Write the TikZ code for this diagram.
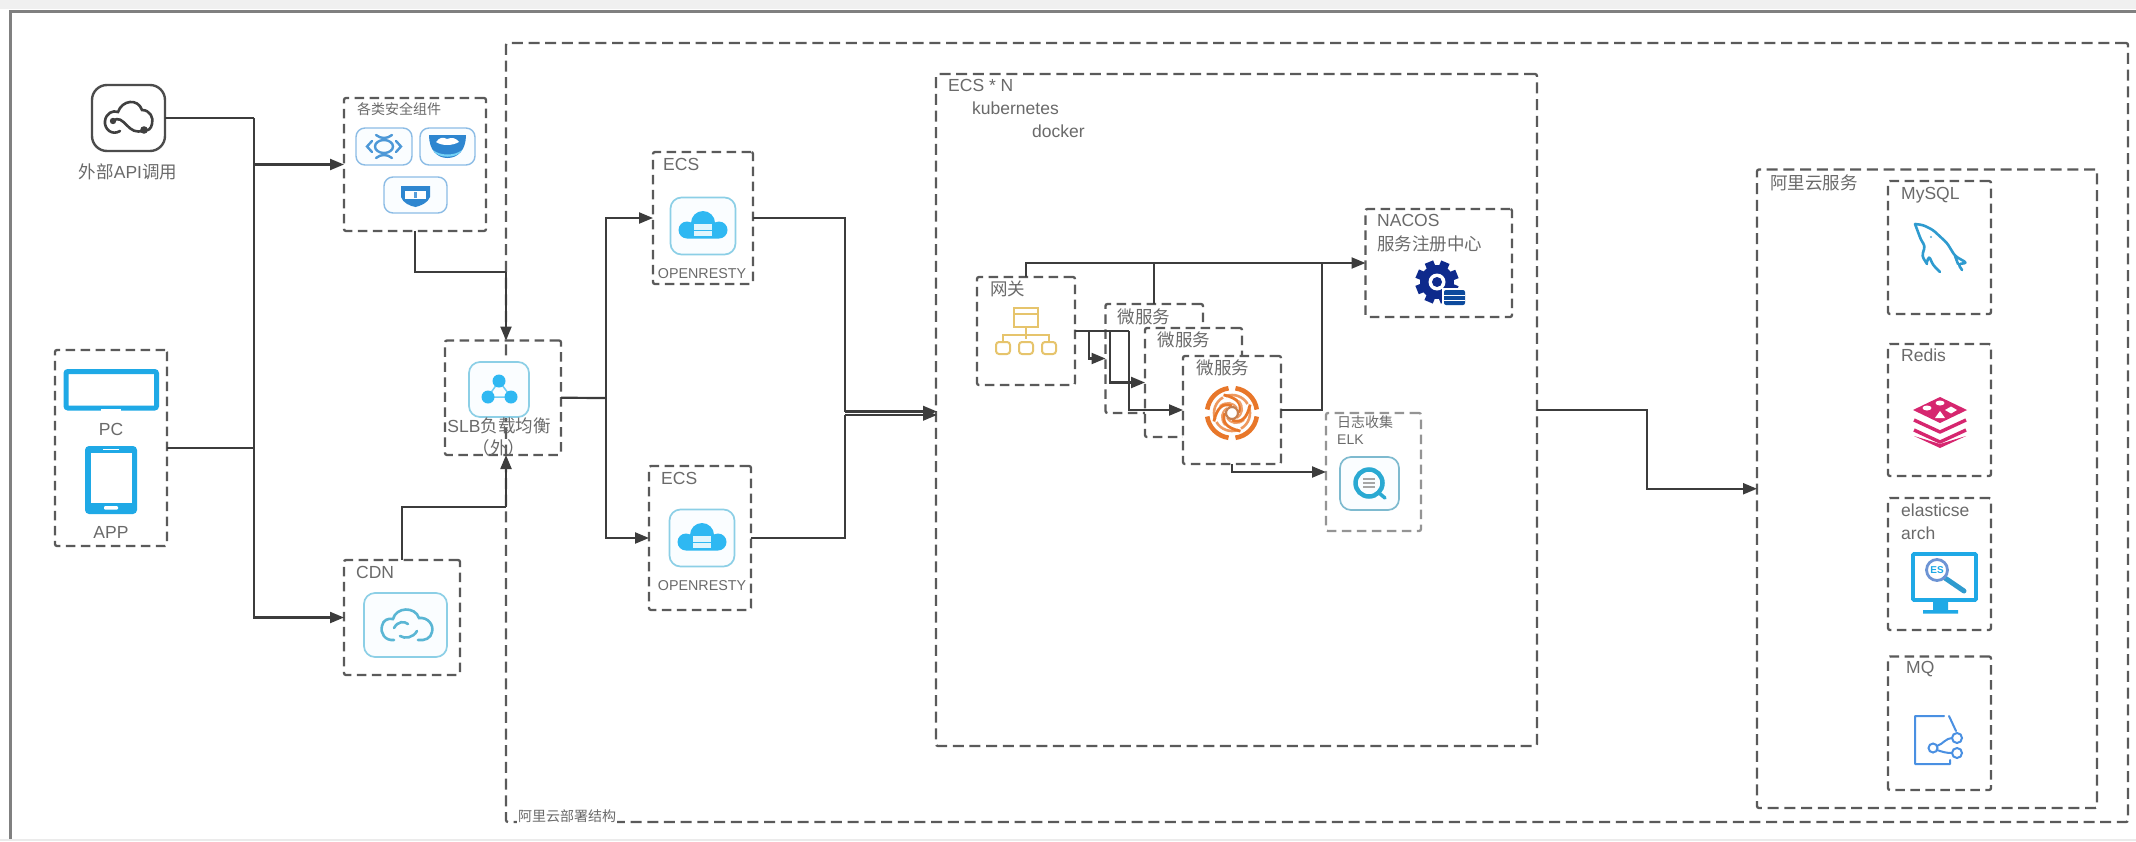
\documentclass[tikz,border=0pt]{standalone}
\usepackage{fontspec}
\setmainfont{Liberation Sans}
\newfontfamily\cjk{Noto Sans CJK SC}
\usetikzlibrary{arrows.meta,fit}
\definecolor{dashc}{HTML}{5A5A5A}
\definecolor{linec}{HTML}{3C3C3C}
\definecolor{txtc}{HTML}{6A6A6A}
\definecolor{tilec}{HTML}{8CCFE6}
\definecolor{sky}{HTML}{1FA9E6}
\definecolor{lightsky}{HTML}{2FB8F2}
\definecolor{secb}{HTML}{2E86D0}
\definecolor{swirl}{HTML}{E8772A}
\definecolor{navy}{HTML}{0E2A8C}
\definecolor{gold}{HTML}{E6C46C}
\definecolor{redisc}{HTML}{D6266F}
\definecolor{mqc}{HTML}{4A90E2}
\definecolor{dolph}{HTML}{2F9BCF}
\definecolor{cdnc}{HTML}{5AB6D4}
\definecolor{elkc}{HTML}{2AA9D2}
\tikzset{
  dbox/.style={draw=dashc,line width=2.3pt,dash pattern=on 9.5pt off 5.5pt,inner sep=0pt,outer sep=0pt,rounded corners=2pt,fill=none},
  wbox/.style={dbox,fill=white},
  lbox/.style={dbox,draw=dashc!65},
  conn/.style={draw=linec,line width=2.2pt},
  arr/.style={conn,-{Triangle[length=14pt,width=11pt]}},
  lbl/.style={text=txtc,inner sep=0pt,font=\fontsize{17.5}{21}\selectfont},
  small/.style={text=txtc,inner sep=0pt,font=\fontsize{14}{17}\selectfont},
  tiny/.style={text=txtc,inner sep=0pt,font=\fontsize{14.3}{17}\selectfont},
  tile/.style={draw=tilec,line width=1.7pt,fill=cyan!2,rounded corners=11pt},
  stile/.style={draw=secb!55,line width=1.4pt,fill=cyan!2,rounded corners=9pt},
}
\newcommand\cloudtile[2]{%
  \begin{scope}[shift={(#1,#2)}]
    \draw[tile] (-32.5,-28.5) rectangle (32.5,28.5);
    \fill[lightsky] (0,-3) circle[radius=12pt] (-16,4) circle[radius=8.5pt] (16,4) circle[radius=8.5pt] (-16,-3) rectangle (16,12.5);
    \fill[cyan!12] (-9,-2) rectangle (9,10);
    \draw[lightsky,line width=.8pt] (-9,4) -- (9,4);
  \end{scope}}
\begin{document}
\begin{tikzpicture}[x=1pt,y=-1pt]
\useasboundingbox (0,0) rectangle (2136,841);
\fill[white] (0,0) rectangle (2136,841);
\fill[black!6] (0,0) rectangle (2136,9);
\fill[black!8] (0,839) rectangle (2136,841);
\draw[black!50,line width=3pt] (2136,11) -- (10,11) -- (10,839);
% big frames
\node[dbox,dash pattern=on 11pt off 5.7pt,fit={(506,43) (2128,822)}] (big) {};
\node[dbox,fit={(344,98) (486,231)}] (sec) {};
\node[dbox,fit={(55,350) (167,546)}] (client) {};
\node[dbox,fit={(445,340.5) (561,455)}] (slb) {};
\node[dbox,fit={(344,560) (460,675)}] (cdn) {};
\node[dbox,fit={(653,152) (753,284)}] (ecsa) {};
\node[dbox,fit={(649,466) (751,610)}] (ecsb) {};
\node[dbox,dash pattern=on 11pt off 5.7pt,fit={(936,74) (1537,746)}] (ecsn) {};
\node[dbox,fit={(977,277) (1075,385)}] (gw) {};
\node[wbox,fit={(1105.5,304) (1203,413)}] (msa) {};
\node[wbox,fit={(1145,328) (1242,437)}] (msb) {};
\node[wbox,fit={(1183,356) (1281,464)}] (msc) {};
\node[dbox,fit={(1365.5,209) (1512,317)}] (nacos) {};
\node[lbox,fit={(1326,413) (1421,531)}] (elk) {};
\node[dbox,dash pattern=on 11pt off 5.7pt,fit={(1757,169.5) (2097,808)}] (ali) {};
\node[dbox,fit={(1888,181) (1991,314)}] (mysql) {};
\node[dbox,fit={(1888,344) (1991,476)}] (redis) {};
\node[dbox,fit={(1888,498) (1991,630)}] (es) {};
\node[dbox,fit={(1888,656.5) (1991,790)}] (mq) {};
% API icon
\node[draw=black!70,line width=2.4pt,rounded corners=15pt,inner sep=0pt,outer sep=0pt,fit={(92,85) (165,151)}] (api) {};
\draw[black!75,line width=2.6pt,line cap=round]
  (120,131) .. controls (112,136) and (104,129) .. (105,121)
  .. controls (106,113) and (113,110) .. (118,112)
  .. controls (122,100) and (138,98) .. (142,110)
  .. controls (150,110) and (154,118) .. (152,124)
  .. controls (151,129) and (148,131) .. (145,130);
\draw[black!75,line width=2.6pt,line cap=round] (113,121) .. controls (124,112) and (128,138) .. (144,130);
\fill[black!75] (144,130) circle[radius=3.8pt] (113,121) circle[radius=3.2pt];
% security icons
\draw[stile] (356,128) rectangle (412,165);
\draw[stile] (420,128) rectangle (475,165);
\draw[stile] (384,177) rectangle (447,213);
\draw[secb!85,line width=2.4pt] (384,146.5) ellipse[x radius=9pt,y radius=6.5pt];
\draw[secb!85,line width=2.4pt,line cap=round] (376,135) .. controls (381,139) and (387,139) .. (392,135) (376,158) .. controls (381,154) and (387,154) .. (392,158) (372,141) -- (367,146.5) -- (372,152) (396,141) -- (401,146.5) -- (396,152);
\fill[secb] (429,135) -- (466,135) .. controls (466,150) and (458,158) .. (447.5,158) .. controls (437,158) and (429,150) .. (429,135) -- cycle;
\fill[white] (436,142) .. controls (440,137) and (443,137) .. (447,139) .. controls (452,137) and (456,138) .. (459,142) .. controls (452,146) and (442,146) .. (436,142) -- cycle;
\fill[cyan!55] (433,150) .. controls (440,156) and (455,156) .. (462,150) .. controls (458,159) and (437,159) .. (433,150) -- cycle;
\fill[secb] (401,186) -- (430,186) -- (430,197) .. controls (428,203) and (420,206) .. (415.5,207) .. controls (410,206) and (403,203) .. (401,197) -- cycle;
\fill[white] (405,191) rectangle (426,199);
\fill[secb!80] (414,192) rectangle (417,198);
% client icons
\draw[sky,line width=5pt,rounded corners=2pt] (66,371.5) rectangle (156.5,408);
\fill[white] (101,409) rectangle (121,411);
\fill[sky,rounded corners=4pt] (85,446) rectangle (137,514);
\fill[white] (90.5,452.5) rectangle (131.5,503);
\fill[white,rounded corners=1pt] (104,506) rectangle (118,509.5);
\fill[white] (103,448.5) rectangle (119,450);
% SLB icon
\draw[tile] (469,362) rectangle (529,417);
\draw[lightsky!70,line width=1.5pt] (499,381) -- (488,397) -- (511,397) -- cycle;
\fill[lightsky] (499,381) circle[radius=6.5pt] (488,397) circle[radius=6.5pt] (511,397) circle[radius=6.5pt];
% CDN icon
\draw[tile] (364,593) rectangle (447,657);
\draw[cdnc,line width=2.6pt,line cap=round]
  (394,640) .. controls (385,641) and (380,633) .. (382,626) .. controls (383,620) and (388,618) .. (393,619)
  .. controls (396,607) and (415,606) .. (419,618) .. controls (428,617) and (434,625) .. (432,632) .. controls (431,638) and (425,641) .. (418,640)
  (394,628) .. controls (398,621) and (404,621) .. (408,624)
  (417,631) .. controls (413,638) and (405,639) .. (400,636);
% ECS icons
\cloudtile{703}{226}
\cloudtile{702}{538}
% gateway icon
\draw[gold,line width=2pt]
  (1014,308) rectangle (1038,327) (1014,314) -- (1038,314)
  (1026,327) -- (1026,339) (1003,342) -- (1003,335) -- (1049,335) -- (1049,342);
\draw[gold,line width=2pt,rounded corners=3pt] (996,342) rectangle (1010,354) (1019,342) rectangle (1033,354) (1042,342) rectangle (1056,354);
% swirl icon
\begin{scope}[shift={(1232,413)}]
  \foreach \a in {0,90,180,270} {
    \draw[swirl,line width=4.6pt] (\a+8:25pt) arc[start angle=\a+8,end angle=\a+82,radius=25pt];
    \draw[swirl!75,line width=2.6pt] (\a+30:18pt) arc[start angle=\a+30,end angle=\a+110,radius=18pt];
    \draw[swirl,line width=2.8pt] (\a:7pt) .. controls (\a+40:14pt) and (\a+70:16pt) .. (\a+115:20pt);
    \draw[swirl!70,line width=2pt] (\a+45:7pt) .. controls (\a+85:11pt) and (\a+115:13pt) .. (\a+150:14pt);
  }
  \draw[swirl!80!black!80,line width=2.2pt] (0,0) circle[radius=6pt];
\end{scope}
% nacos gear
\begin{scope}[shift={(1437,282)}]
  \fill[navy] (0,0) circle[radius=17pt];
  \foreach \a in {0,45,90,135} \fill[navy,rotate=\a+22] (-4.5,-21.5) rectangle (4.5,21.5);
  \fill[white] (0,0) circle[radius=8.5pt];
  \fill[navy] (0,0) circle[radius=5pt];
  \fill[white] (5,6) rectangle (30,25);
  \fill[navy!85!cyan,rounded corners=2pt] (7,8) rectangle (28,23);
  \draw[white,line width=1pt] (7,13) -- (28,13) (7,18) -- (28,18);
\end{scope}
% elk icon
\draw[tile,draw=tilec!90!black] (1340,457) rectangle (1399,510);
\draw[elkc,line width=4.5pt] (1369,483) circle[radius=13.5pt];
\draw[black!35,line width=1.3pt] (1363,479) -- (1375,479) (1363,483) -- (1375,483) (1363,487) -- (1375,487);
\draw[elkc,line width=3.5pt,line cap=round] (1379,493) -- (1385,498);
% dolphin
\draw[dolph,line width=2.6pt,line join=round,line cap=round,rounded corners=3pt]
  (1915,224) -- (1923,225) -- (1933,230) -- (1947,243) -- (1955,256) -- (1967,263) -- (1958,264) -- (1962,270)
  (1915,224) -- (1921,240) -- (1925,246) -- (1922,256) -- (1927,264) (1927,262) -- (1929,256) -- (1933,265) -- (1940,272)
  (1955,256) -- (1958,264);
\fill[dolph!80] (1931,237) circle[radius=1.2pt];
% redis
\fill[redisc] (1913,410) -- (1940,397) -- (1967,410) -- (1940,423) -- cycle;
\fill[white] (1927,408) ellipse[x radius=4.5pt,y radius=2.5pt] (1940,403) ellipse[x radius=4.5pt,y radius=2.5pt];
\fill[white] (1945,410) -- (1951,406.5) -- (1957,410) -- (1951,413.5) -- cycle (1935,418) -- (1940,411) -- (1945,418) -- cycle;
\draw[redisc,line width=3.4pt,line join=round] (1914,420) -- (1940,432) -- (1966,420) (1914,430) -- (1940,442) -- (1966,430);
\fill[redisc] (1914,436) -- (1940,448) -- (1966,436) -- (1940,444) -- cycle;
% monitor
\draw[sky,line width=3.6pt,rounded corners=1pt] (1913,554) rectangle (1976,600);
\fill[sky] (1933,600) rectangle (1948,610) (1923,610) rectangle (1958,613.5);
\draw[dolph,line width=5pt,line cap=round] (1945,578) -- (1964,591);
\draw[cyan!45!blue!60,line width=2.8pt] (1937,570) circle[radius=10.5pt];
\node[inner sep=0pt,text=sky,font=\fontsize{10}{10}\bfseries\selectfont] (eslogo) at (1937,570) {ES};
% mq icon
\draw[mqc,line width=2pt,line cap=round,line join=round]
  (1944,716) -- (1915,716) -- (1915,764) -- (1950,764) -- (1950,760)
  (1949,716) -- (1956,731)
  (1937,746) .. controls (1943,744) and (1946,738) .. (1952,738)
  (1937,750) .. controls (1943,752) and (1946,753) .. (1952,753);
\draw[mqc,line width=2pt] (1933,748) circle[radius=4.5pt] (1957,738) circle[radius=5pt] (1957,753) circle[radius=5pt];
% connector coordinates
\coordinate (busT) at (254,118);
\coordinate (slbT) at (606,398);
\coordinate (ecsT) at (845,218);
\coordinate (inA) at (937,411.5);
\coordinate (inB) at (937,415);
\coordinate (secTurn) at (506,272);
\coordinate (cdnTurn) at (506,507);
\coordinate (aliT) at (1647,410);
\coordinate (topBus) at (1322,263);
\coordinate (gA) at (1089,331);
\coordinate (gB) at (1110,331);
\coordinate (gC) at (1129,331);
% connectors
\draw[conn] (api.east) -- (busT);
\draw[arr] (busT) |- (cdn.west);
\draw[arr] (busT |- sec.west) -- (sec.west);
\draw[conn] (client.east) -- (busT |- client.east);
\draw[conn] (sec.south) |- (secTurn);
\draw[arr] (secTurn) -- (slb.north -| big.west);
\draw[conn] (cdn.north) |- (cdnTurn);
\draw[arr] (cdnTurn) -- (slb.south -| big.west);
\draw[conn] (slb.east) -- (slbT);
\draw[arr] (slbT) |- (ecsa.west);
\draw[arr] (slbT) |- (ecsb.west);
\draw[conn] (ecsa.east) -- (ecsT) -- (ecsT |- inA);
\draw[arr] (ecsT |- inA) -- (inA);
\draw[conn] (ecsb.east) -- (ecsT |- ecsb.east) -- (ecsT |- inB);
\draw[arr] (ecsT |- inB) -- (inB);
\draw[arr] (ecsn.east) -- (aliT) |- (ali.west);
\draw[arr] (gw.north) |- (nacos.west);
\draw[conn] (msa.north) -- (msa.north |- nacos.west);
\draw[conn] (msc.east) -| (topBus);
\draw[conn] (gw.east) -- (gC);
\draw[arr] (gA) |- (msa.west);
\draw[arr] (gB) |- (msb.west);
\draw[arr] (gC) |- (msc.west);
\draw[arr] (msc.south) |- (elk.west);
% labels
\node[lbl] (tapi) at (128,172) {{\cjk 外部}API{\cjk 调用}};
\node[small,anchor=west] (tsec) at (357,109) {\cjk 各类安全组件};
\node[lbl] (tpc) at (111,429) {PC};
\node[lbl] (tapp) at (111,532) {APP};
\node[lbl] (tslb) at (499,426) {SLB{\cjk 负载均衡}};
\node[lbl] (tslb2) at (499,448) {\cjk （外）};
\node[lbl,anchor=west] (tcdn) at (356,572) {CDN};
\node[lbl,anchor=west] (tea) at (663,164) {ECS};
\node[tiny] (tora) at (702,274) {OPENRESTY};
\node[lbl,anchor=west] (teb) at (661,478) {ECS};
\node[tiny] (torb) at (702,585.5) {OPENRESTY};
\node[lbl,anchor=west] (ten) at (948,85) {ECS * N};
\node[lbl,anchor=west] (tk) at (972,108) {kubernetes};
\node[lbl,anchor=west] (td) at (1032,131) {docker};
\node[lbl,anchor=west] (tgw) at (990,289) {\cjk 网关};
\node[lbl] (tma) at (1144,317) {\cjk 微服务};
\node[lbl] (tmb) at (1184,340) {\cjk 微服务};
\node[lbl] (tmc) at (1223,368) {\cjk 微服务};
\node[lbl,anchor=west] (tna) at (1377,220) {NACOS};
\node[lbl,anchor=west] (tnb) at (1377,244) {\cjk 服务注册中心};
\node[small,anchor=west] (tel) at (1337,422) {\cjk 日志收集};
\node[small,anchor=west] (tek) at (1337,440) {ELK};
\node[lbl,anchor=west] (tali) at (1770,182.5) {\cjk 阿里云服务};
\node[lbl,anchor=west] (tmy) at (1901,195) {MySQL};
\node[lbl,anchor=west] (tre) at (1901,355) {Redis};
\node[lbl,anchor=west] (tes1) at (1901,510) {elasticse};
\node[lbl,anchor=west] (tes2) at (1901,533) {arch};
\node[lbl,anchor=west] (tmq) at (1906,669) {MQ};
\node[small,anchor=west,fill=white,inner xsep=1pt,inner ysep=3pt] (tbig) at (517,816) {\cjk 阿里云部署结构};
\end{tikzpicture}
\end{document}
